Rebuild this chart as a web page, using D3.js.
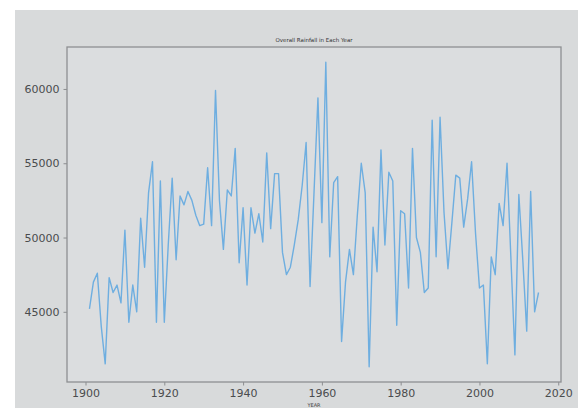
<!DOCTYPE html>
<html>
<head>
<meta charset="utf-8">
<script src="https://cdn.jsdelivr.net/npm/d3@7"></script>
<style>
    body { margin: 0; background: #ffffff; }
    .tick text { font-family: "DejaVu Sans", sans-serif; font-size: 11px; fill: #4a4c4e; }
</style>
</head>
<body>
<svg id="viz" width="581" height="411"></svg>
<script>
// annual rainfall totals
var years = d3.range(1901, 2016);
var rainfall = [
    45200, 47000, 47600, 44000, 41500, 47300, 46300, 46800, 45600, 50500,
    44300, 46800, 45000, 51300, 48000, 53000, 55100, 44300, 53800, 44300,
    49500, 54000, 48500, 52800, 52200, 53100, 52500, 51500, 50800, 50900,
    54700, 50800, 59900, 52500, 49200, 53200, 52800, 56000, 48300, 52000,
    46800, 52000, 50300, 51600, 49700, 55700, 50600, 54300, 54300, 49000,
    47500, 48000, 49500, 51200, 53500, 56400, 46700, 53000, 59400, 51000,
    61800, 48700, 53700, 54100, 43000, 47000, 49200, 47500, 51500, 55000,
    53000, 41300, 50700, 47700, 55900, 49500, 54400, 53800, 44100, 51800,
    51600, 46600, 56000, 50000, 49000, 46300, 46600, 57900, 48700, 58100,
    51700, 47900, 51000, 54200, 54000, 50700, 52600, 55100, 50300, 46600,
    46800, 41500, 48700, 47500, 52300, 50800, 55000, 48500, 42100, 52900,
    48500, 43700, 53100, 45000, 46300
];
var xTicks = [1900, 1920, 1940, 1960, 1980, 2000, 2020];
var yTicks = [45000, 50000, 55000, 60000];
var title = "Overall Rainfall in Each Year";
var xLabel = "YEAR";

var svg = d3.select("#viz");

// figure panel and axes box
var box = { left: 67, right: 561, top: 47, bottom: 382 };

svg.append("rect")
    .attr("x", 15).attr("y", 10)
    .attr("width", 563).attr("height", 398)
    .style("fill", "#d8dadb");

svg.append("rect")
    .attr("x", box.left).attr("y", box.top)
    .attr("width", box.right - box.left).attr("height", box.bottom - box.top)
    .style("fill", "#dbdddf");

var data = years.map(function (y, i) {
    return { year: y, value: rainfall[i] };
});

// matplotlib style 5% padding around the data
var pad = function (ext) {
    var d = (ext[1] - ext[0]) * 0.05;
    return [ext[0] - d, ext[1] + d];
};

var x = d3.scaleLinear()
    .domain(pad(d3.extent(years)))
    .range([box.left, box.right]);
var y = d3.scaleLinear()
    .domain(pad(d3.extent(rainfall)))
    .range([box.bottom, box.top]);

var line = d3.line()
    .x(function (d) { return x(d.year); })
    .y(function (d) { return y(d.value); });

svg.append("path")
    .datum(data)
    .attr("d", line)
    .style("fill", "none")
    .style("stroke", "#6eaee0")
    .style("stroke-width", 1.4)
    .style("stroke-linejoin", "round");

var xAxis = svg.append("g")
    .attr("transform", "translate(0," + box.bottom + ")")
    .call(d3.axisBottom(x).tickValues(xTicks).tickFormat(d3.format("d")).tickSize(3.5).tickPadding(4));
var yAxis = svg.append("g")
    .attr("transform", "translate(" + box.left + ",0)")
    .call(d3.axisLeft(y).tickValues(yTicks).tickFormat(d3.format("d")).tickSize(3.5).tickPadding(4));

[xAxis, yAxis].forEach(function (g) {
    g.select(".domain").remove();
    g.selectAll(".tick line").style("stroke", "#8c8e90");
});

// spines
svg.append("rect")
    .attr("x", box.left).attr("y", box.top)
    .attr("width", box.right - box.left).attr("height", box.bottom - box.top)
    .style("fill", "none")
    .style("stroke", "#8e9092")
    .style("stroke-width", 1.3);

svg.append("text")
    .attr("x", (box.left + box.right) / 2)
    .attr("y", box.top - 5)
    .style("text-anchor", "middle")
    .style("font-family", "DejaVu Sans, sans-serif")
    .style("font-size", "5.5px")
    .style("fill", "#333")
    .text(title);

svg.append("text")
    .attr("x", (box.left + box.right) / 2)
    .attr("y", 407)
    .style("text-anchor", "middle")
    .style("font-family", "DejaVu Sans, sans-serif")
    .style("font-size", "5px")
    .style("fill", "#444")
    .text(xLabel);
</script>
</body>
</html>
